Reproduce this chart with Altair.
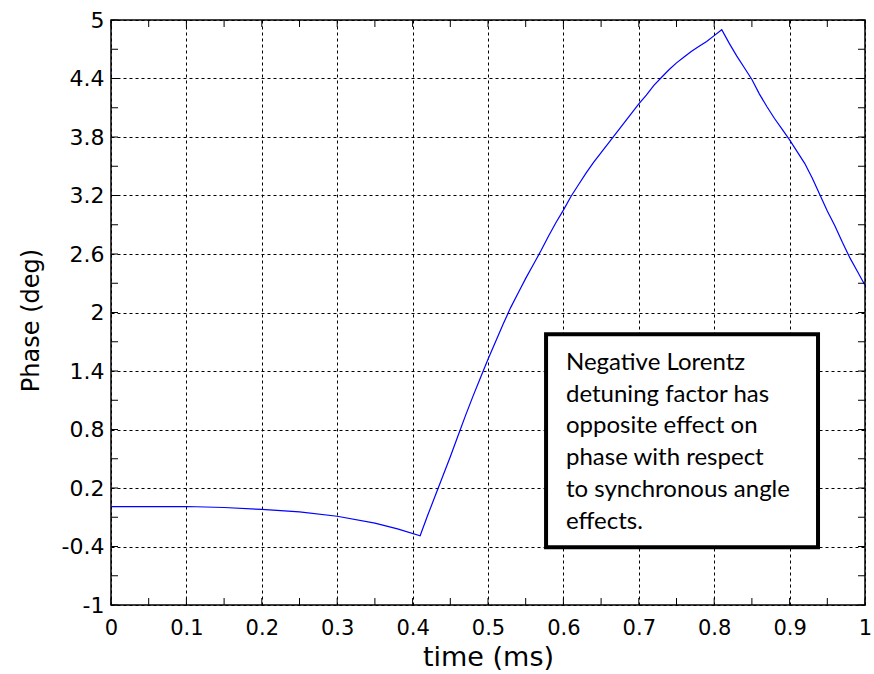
import altair as alt
import pandas as pd

# ---- data ----
TIME = [0.00, 0.05, 0.10, 0.15, 0.20, 0.25, 0.30, 0.35, 0.38, 0.41,
        0.42, 0.43, 0.44, 0.45, 0.46, 0.47, 0.48, 0.49, 0.50, 0.51,
        0.52, 0.53, 0.54, 0.55, 0.56, 0.57, 0.58, 0.59, 0.60, 0.61,
        0.62, 0.63, 0.64, 0.65, 0.66, 0.67, 0.68, 0.69, 0.70, 0.71,
        0.72, 0.73, 0.74, 0.75, 0.76, 0.77, 0.78, 0.79, 0.80, 0.81,
        0.82, 0.83, 0.84, 0.85, 0.86, 0.87, 0.88, 0.89, 0.90, 0.91,
        0.92, 0.93, 0.94, 0.95, 0.96, 0.97, 0.98, 0.99, 1.00]
PHASE = [0.01, 0.01, 0.01, 0.00, -0.02, -0.045, -0.09, -0.16, -0.22, -0.29,
         -0.08, 0.12, 0.32, 0.52, 0.73, 0.94, 1.14, 1.33, 1.52, 1.70,
         1.88, 2.05, 2.20, 2.35, 2.49, 2.63, 2.78, 2.92, 3.05, 3.19,
         3.31, 3.43, 3.54, 3.64, 3.74, 3.84, 3.94, 4.04, 4.14, 4.23,
         4.33, 4.41, 4.49, 4.56, 4.62, 4.68, 4.73, 4.78, 4.84, 4.90,
         4.76, 4.63, 4.51, 4.39, 4.24, 4.11, 3.99, 3.88, 3.77, 3.65,
         3.53, 3.38, 3.21, 3.04, 2.89, 2.72, 2.56, 2.42, 2.28]

X_TICKS = [round(k * 0.05, 2) for k in range(21)]
Y_TICKS = [round(-1 + k * 0.3, 1) for k in range(21)]

NOTE_LINES = ["Negative Lorentz", "detuning factor has", "opposite effect on",
              "phase with respect", "to synchronous angle", "effects."]

X_TITLE = "time (ms)"
Y_TITLE = "Phase (deg)"

W, H = 754, 585

line_df = pd.DataFrame({"t": TIME, "p": PHASE})
xt_df = pd.DataFrame({"t": X_TICKS})
yt_df = pd.DataFrame({"p": Y_TICKS})

xscale = alt.Scale(domain=[0, 1], nice=False, zero=False)
yscale = alt.Scale(domain=[-1, 5], nice=False, zero=False)

LBL = "(datum.value < 0 ? '-' : '') + format(abs(datum.value), '~g')"

x_axis = alt.Axis(
    values=X_TICKS, grid=True, gridDash=[3, 3], gridColor="#000000",
    gridOpacity=1, gridWidth=1, ticks=False, domain=False,
    labelExpr="(round(datum.value*100) % 10 == 0) ? " + LBL + " : ''",
    labelFont="DejaVu Sans", labelFontSize=21, labelColor="#000000",
    labelPadding=12, labelFlush=False, labelOverlap=False,
    title=X_TITLE, titleFont="DejaVu Sans", titleFontSize=27,
    titleFontWeight="normal", titleColor="#000000",
    titleBaseline="alphabetic", titleY=60,
)
y_axis = alt.Axis(
    values=Y_TICKS, grid=True, gridDash=[3, 3], gridColor="#000000",
    gridOpacity=1, gridWidth=1, ticks=False, domain=False,
    labelExpr="(round((datum.value+1)*10) % 6 == 0) ? " + LBL + " : ''",
    labelFont="DejaVu Sans", labelFontSize=22, labelColor="#000000",
    labelPadding=7, labelFlush=False, labelOverlap=False,
    title=Y_TITLE, titleFont="DejaVu Sans", titleFontSize=24,
    titleFontWeight="normal", titleColor="#000000",
    titleBaseline="alphabetic", titleX=-73, titleY=300, titleAngle=270,
)

X = alt.X("t:Q", scale=xscale, axis=x_axis)
Y = alt.Y("p:Q", scale=yscale, axis=y_axis)

line = alt.Chart(line_df).mark_line(color="#0000ff", strokeWidth=1.2).encode(x=X, y=Y)

tick_len = 7
top_ticks = alt.Chart(xt_df).mark_rule(color="#000000", strokeWidth=1).encode(
    x=X, y=alt.value(0), y2=alt.value(tick_len))
bot_ticks = alt.Chart(xt_df).mark_rule(color="#000000", strokeWidth=1).encode(
    x=X, y=alt.value(H - tick_len), y2=alt.value(H))
left_ticks = alt.Chart(yt_df).mark_rule(color="#000000", strokeWidth=1).encode(
    y=Y, x=alt.value(0), x2=alt.value(tick_len))
right_ticks = alt.Chart(yt_df).mark_rule(color="#000000", strokeWidth=1).encode(
    y=Y, x=alt.value(W - tick_len), x2=alt.value(W))

box = alt.Chart(pd.DataFrame({"d": [0]})).mark_rect(
    fill="#ffffff", stroke="#000000", strokeWidth=4
).encode(
    x=alt.datum(0.577), x2=alt.datum(0.9377),
    y=alt.datum(1.776), y2=alt.datum(-0.408),
)

note = alt.Chart(pd.DataFrame({"d": [0]})).mark_text(
    text=NOTE_LINES, align="left", baseline="alphabetic", font="Lato",
    fontSize=24, lineHeight=31.7, color="#000000",
).encode(
    x=alt.datum(0.6034), y=alt.datum(1.41),
)

chart = alt.layer(
    line, top_ticks, bot_ticks, left_ticks, right_ticks, box, note
).properties(
    width=W, height=H,
    autosize=alt.AutoSizeParams(type="none"),
    padding={"left": 111, "top": 20, "right": 9, "bottom": 69},
    background="#ffffff",
).configure_view(stroke="#000000", strokeWidth=1.5)

chart.save("out.html", embed_options={"renderer": "svg", "actions": False})
